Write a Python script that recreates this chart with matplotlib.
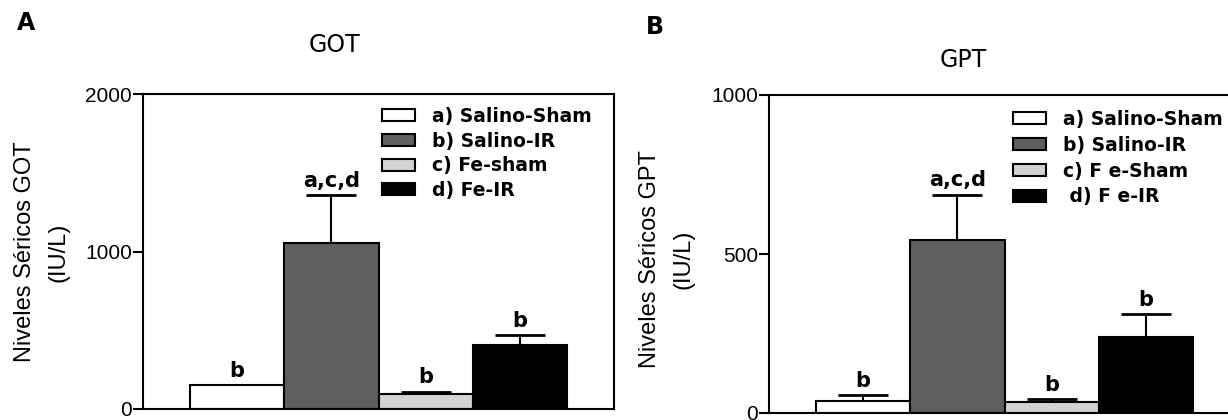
import matplotlib
matplotlib.use("Agg")
import matplotlib.pyplot as plt
from matplotlib.patches import Patch

# bar order: a) Salino-Sham, b) Salino-IR, c) Fe-sham, d) Fe-IR
got_mean = [150, 1055, 95, 405]
got_err = [0, 302, 16, 62]
got_sig = ["b", "a,c,d", "b", "b"]
got_labels = ["a) Salino-Sham", "b) Salino-IR", "c) Fe-sham", "d) Fe-IR"]

gpt_mean = [37, 545, 35, 238]
gpt_err = [19, 142, 9, 73]
gpt_sig = ["b", "a,c,d", "b", "b"]
gpt_labels = ["a) Salino-Sham", "b) Salino-IR", "c) F e-Sham", " d) F e-IR"]

colors = ["white", "#5f5f5f", "#d3d3d3", "black"]

W, H = 1228, 420
fig = plt.figure(figsize=(W / 100, H / 100), dpi=100)


def px(x, y):
    # pixel position (from top-left) -> figure fraction
    return x / W, 1 - y / H


def panel(rect, mean, err, sig, labels, ymax, yticks, ylabel, title, title_xy,
          letter, letter_xy, ylab_xy, leg_xy, leg_space):
    left, top, width, height = rect
    ax = fig.add_axes([left / W, 1 - (top + height) / H, width / W, height / H])
    x = list(range(len(mean)))
    ax.bar(x, mean, width=1.0, color=colors, edgecolor="black", linewidth=1.5, zorder=2)
    ax.errorbar(x, mean, yerr=[[0] * len(err), err], fmt="none", ecolor="black",
                elinewidth=1.5, capsize=18, capthick=2, zorder=1)
    for xi, m, e, s in zip(x, mean, err, sig):
        ax.annotate(s, xy=(xi, m + e), xytext=(0, 3), textcoords="offset points",
                    ha="center", va="bottom", fontsize=15, fontweight="bold",
                    family="DejaVu Sans")
    ax.set_xlim(-1.0, 4.0)
    ax.set_ylim(0, ymax)
    ax.set_xticks([])
    ax.set_yticks(yticks)
    ax.set_yticklabels([str(t) for t in yticks], family="Liberation Sans", fontsize=15)
    ax.tick_params(axis="y", length=7, width=1.5, pad=1)
    for sp in ax.spines.values():
        sp.set_linewidth(1.5)

    handles = [Patch(facecolor=c, edgecolor="black", linewidth=1.5) for c in colors]
    ax.legend(handles, labels, loc="upper left",
              bbox_to_anchor=px(*leg_xy), bbox_transform=fig.transFigure,
              frameon=False, borderpad=0, borderaxespad=0,
              handlelength=1.75, handleheight=0.6, handletextpad=0.9,
              labelspacing=leg_space, prop={"family": "DejaVu Sans", "weight": "bold",
                                            "size": 13.5})

    fig.text(*px(*ylab_xy), ylabel, rotation=90, ha="center", va="center",
             multialignment="center", linespacing=1.7, family="Liberation Sans",
             fontsize=17)
    fig.text(*px(*title_xy), title, ha="center", va="center", fontsize=17,
             family="DejaVu Sans")
    fig.text(*px(*letter_xy), letter, ha="center", va="center", fontsize=17,
             fontweight="bold", family="DejaVu Sans")
    return ax


panel((143, 94, 471, 315), got_mean, got_err, got_sig, got_labels, 2000,
      [0, 1000, 2000], "Niveles Séricos GOT\n(IU/L)", "GOT", (334, 45),
      "A", (26, 23), (42, 252), (382, 107), 0.3)

panel((769, 95, 471, 318), gpt_mean, gpt_err, gpt_sig, gpt_labels, 1000,
      [0, 500, 1000], "Niveles Séricos GPT\n(IU/L)", "GPT", (963, 60),
      "B", (655, 27), (667, 259), (1013, 110), 0.36)

fig.savefig("out.png", dpi=100)
